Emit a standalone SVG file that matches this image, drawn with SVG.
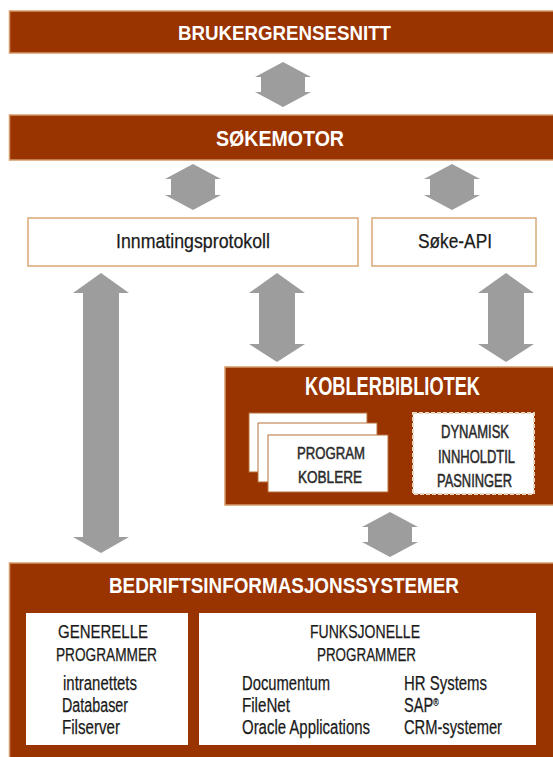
<svg xmlns="http://www.w3.org/2000/svg" width="553" height="757" viewBox="0 0 553 757">
<style>
.bar{fill:#993300;stroke:#d49a6a;stroke-width:1.5}
.wbox{fill:#ffffff;stroke:#d9a877;stroke-width:1.5}
.ibox{fill:#ffffff;stroke:#b8703a;stroke-width:1}
.arr{fill:#9d9d9d}
.tw{font-family:"Liberation Sans",Arial,sans-serif;fill:#ffffff;font-weight:bold}
.tb{font-family:"Liberation Sans",Arial,sans-serif;fill:#1a1a1a;stroke:#1a1a1a;stroke-width:0.25}
.tk{font-family:"Liberation Sans",Arial,sans-serif;fill:#2a2a2a;stroke:#2a2a2a;stroke-width:0.5}
</style>
<rect width="553" height="757" fill="#ffffff"/>

<g id="brukergrensesnitt">
<rect class="bar" x="9.5" y="11" width="550" height="42"/>
<text class="tw" x="178" y="40" font-size="21" textLength="213" lengthAdjust="spacingAndGlyphs">BRUKERGRENSESNITT</text>
</g>

<g id="sokemotor">
<rect class="bar" x="9.5" y="115" width="550" height="45"/>
<text class="tw" x="216" y="146" font-size="22" textLength="128" lengthAdjust="spacingAndGlyphs">SØKEMOTOR</text>
</g>

<g id="innmatingsprotokoll">
<rect class="wbox" x="28" y="218" width="330" height="48"/>
<text class="tb" x="116" y="248" font-size="20.5" textLength="154" lengthAdjust="spacingAndGlyphs">Innmatingsprotokoll</text>
</g>

<g id="soke-api">
<rect class="wbox" x="372" y="218" width="164" height="48"/>
<text class="tb" x="418" y="248" font-size="20.5" textLength="74" lengthAdjust="spacingAndGlyphs">Søke-API</text>
</g>

<g id="koblerbibliotek">
<rect class="bar" x="225" y="367" width="335" height="138"/>
<text class="tw" x="305" y="395" font-size="25" textLength="175" lengthAdjust="spacingAndGlyphs">KOBLERBIBLIOTEK</text>
</g>

<g id="programkoblere">
<rect class="ibox" x="249" y="413" width="118" height="59"/>
<rect class="ibox" x="258" y="423" width="119" height="59"/>
<rect class="ibox" x="268" y="435" width="120" height="57"/>
<text class="tk" x="297" y="459" font-size="17" textLength="68" lengthAdjust="spacingAndGlyphs">PROGRAM</text>
<text class="tk" x="298" y="483" font-size="17" textLength="64" lengthAdjust="spacingAndGlyphs">KOBLERE</text>
</g>

<g id="dynamisk">
<rect x="413" y="413" width="121" height="81" fill="#ffffff" stroke="#e9d6bf" stroke-width="2" stroke-dasharray="4 2"/>
<text class="tk" x="441" y="438" font-size="18" textLength="68" lengthAdjust="spacingAndGlyphs">DYNAMISK</text>
<text class="tk" x="438" y="463" font-size="18" textLength="77" lengthAdjust="spacingAndGlyphs">INNHOLDTIL</text>
<text class="tk" x="437" y="487" font-size="18" textLength="75" lengthAdjust="spacingAndGlyphs">PASNINGER</text>
</g>

<g id="bedriftsinformasjonssystemer">
<rect class="bar" x="9.5" y="563" width="550" height="200"/>
<text class="tw" x="109" y="593" font-size="22.5" textLength="350" lengthAdjust="spacingAndGlyphs">BEDRIFTSINFORMASJONSSYSTEMER</text>
</g>

<g id="generelle">
<rect x="26" y="613" width="162" height="132" fill="#ffffff"/>
<text class="tb" x="58" y="638" font-size="18" textLength="90" lengthAdjust="spacingAndGlyphs">GENERELLE</text>
<text class="tb" x="56" y="661" font-size="18" textLength="101" lengthAdjust="spacingAndGlyphs">PROGRAMMER</text>
<text class="tb" x="63" y="690" font-size="20" textLength="74" lengthAdjust="spacingAndGlyphs">intranettets</text>
<text class="tb" x="62" y="712" font-size="20" textLength="66" lengthAdjust="spacingAndGlyphs">Databaser</text>
<text class="tb" x="62" y="734" font-size="20" textLength="58" lengthAdjust="spacingAndGlyphs">Filserver</text>
</g>

<g id="funksjonelle">
<rect x="199" y="613" width="337" height="132" fill="#ffffff"/>
<text class="tb" x="310" y="638" font-size="18" textLength="110" lengthAdjust="spacingAndGlyphs">FUNKSJONELLE</text>
<text class="tb" x="317" y="661" font-size="18" textLength="99" lengthAdjust="spacingAndGlyphs">PROGRAMMER</text>
<text class="tb" x="242" y="690" font-size="20" textLength="88" lengthAdjust="spacingAndGlyphs">Documentum</text>
<text class="tb" x="242" y="712" font-size="20" textLength="48" lengthAdjust="spacingAndGlyphs">FileNet</text>
<text class="tb" x="242" y="734" font-size="20" textLength="128" lengthAdjust="spacingAndGlyphs">Oracle Applications</text>
<text class="tb" x="404" y="690" font-size="20" textLength="83" lengthAdjust="spacingAndGlyphs">HR Systems</text>
<text class="tb" transform="translate(404,712) scale(0.73,1)" font-size="20">SAP<tspan font-size="10" baseline-shift="super">®</tspan></text>
<text class="tb" x="404" y="734" font-size="20" textLength="98" lengthAdjust="spacingAndGlyphs">CRM-systemer</text>
</g>

<g id="connectors">
<path class="arr" d="M283,62 L311,77 L305,77 L305,92 L311,92 L283,107 L255,92 L261,92 L261,77 L255,77 Z"/>
<path class="arr" d="M193,164 L221,179 L215,179 L215,195 L221,195 L193,210 L165,195 L171,195 L171,179 L165,179 Z"/>
<path class="arr" d="M452,164 L480,179 L474,179 L474,195 L480,195 L452,210 L424,195 L430,195 L430,179 L424,179 Z"/>
<path class="arr" d="M101,273 L129,293 L119,293 L119,537 L129,537 L101,553 L73,537 L83,537 L83,293 L73,293 Z"/>
<path class="arr" d="M277,273 L305,293 L295,293 L295,344 L305,344 L277,362 L249,344 L259,344 L259,293 L249,293 Z"/>
<path class="arr" d="M506,273 L534,293 L524,293 L524,344 L534,344 L506,362 L478,344 L488,344 L488,293 L478,293 Z"/>
<path class="arr" d="M390,512 L418,527 L412,527 L412,542 L418,542 L390,557 L362,542 L368,542 L368,527 L362,527 Z"/>
</g>
</svg>
